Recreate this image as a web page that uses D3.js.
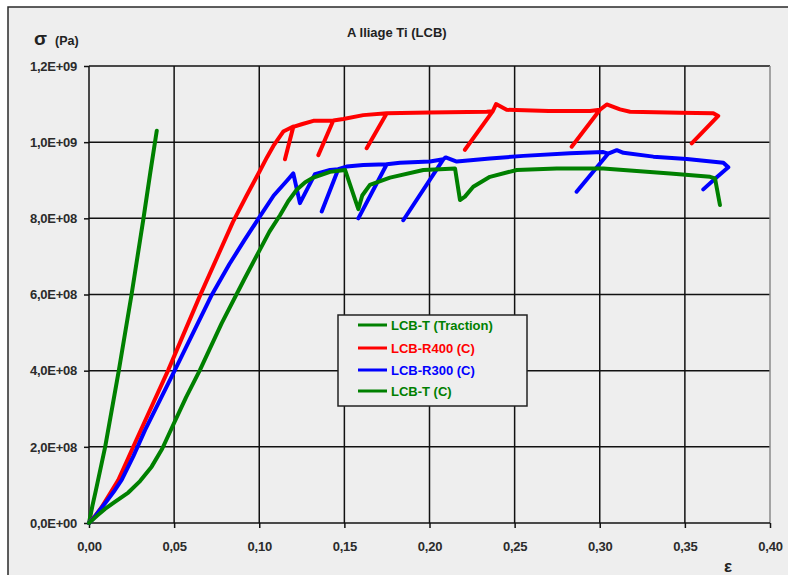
<!DOCTYPE html>
<html>
<head>
<meta charset="utf-8">
<script src="https://cdn.jsdelivr.net/npm/d3@7"></script>
<style>
  html, body { margin: 0; padding: 0; background: #ffffff; }
  svg { display: block; }
  text { font-family: "Liberation Sans", Arial, sans-serif; }
</style>
</head>
<body>
<svg id="chart" width="788" height="575"></svg>
<script>
// Axis ticks
const xTicks = [0, 0.05, 0.10, 0.15, 0.20, 0.25, 0.30, 0.35, 0.40];
const xTickLabels = ["0,00", "0,05", "0,10", "0,15", "0,20", "0,25", "0,30", "0,35", "0,40"];
const yTicks = [0, 2e8, 4e8, 6e8, 8e8, 1.0e9, 1.2e9];
const yTickLabels = ["0,0E+00", "2,0E+08", "4,0E+08", "6,0E+08", "8,0E+08", "1,0E+09", "1,2E+09"];

// LCB-T (Traction)
const tractionStrain = [0, 0.002, 0.004, 0.0095, 0.0175, 0.025, 0.032, 0.036, 0.0398];
const tractionStress = [0, 0.45e8, 0.85e8, 2.0e8, 4.0e8, 6.0e8, 8.0e8, 9.2e8, 1.03e9];

// LCB-R400 (C) with unload/reload cycles
const r400Strain = [0, 0.0035, 0.0075, 0.012, 0.0172, 0.022, 0.027, 0.0466, 0.0652, 0.0845, 0.0926,
  0.1004, 0.1045, 0.1083, 0.1141, 0.120,
  0.1151, 0.120, 0.1249, 0.1318, 0.1435,
  0.1347, 0.1435, 0.1494, 0.1611, 0.1749,
  0.1631, 0.1749, 0.200, 0.2336, 0.2371,
  0.2208, 0.2371, 0.2391, 0.2453, 0.270, 0.2943, 0.3001,
  0.2835, 0.3001, 0.3041, 0.3119, 0.3178, 0.3471, 0.3667, 0.3696, 0.354];
const r400Stress = [0, 0.18e8, 0.42e8, 0.75e8, 1.13e8, 1.6e8, 2.1e8, 4.02e8, 5.97e8, 7.9e8, 8.6e8,
  9.25e8, 9.6e8, 9.9e8, 1.028e9, 1.041e9,
  0.955e9, 1.04e9, 1.047e9, 1.056e9, 1.057e9,
  0.966e9, 1.057e9, 1.061e9, 1.071e9, 1.076e9,
  0.984e9, 1.076e9, 1.078e9, 1.080e9, 1.081e9,
  0.980e9, 1.081e9, 1.100e9, 1.085e9, 1.082e9, 1.082e9, 1.085e9,
  0.988e9, 1.085e9, 1.099e9, 1.086e9, 1.080e9, 1.077e9, 1.076e9, 1.069e9, 0.997e9];

// LCB-R300 (C) with unload/reload cycles
const r300Strain = [0, 0.003, 0.0055, 0.01, 0.0145, 0.0192, 0.026, 0.0329, 0.0505, 0.0721, 0.0825,
  0.0912, 0.1004, 0.1085, 0.1165, 0.120,
  0.1239, 0.1327, 0.1416, 0.1464,
  0.1367, 0.1464, 0.1513, 0.1611, 0.1749,
  0.1582, 0.1749, 0.1827, 0.2003, 0.2081,
  0.1846, 0.2081, 0.2095, 0.216, 0.2355, 0.2551, 0.2825, 0.3021, 0.305,
  0.2864, 0.305, 0.310, 0.3139, 0.3315, 0.3511, 0.3726, 0.3755, 0.3687, 0.3608];
const r300Stress = [0, 0.14e8, 0.29e8, 0.55e8, 0.82e8, 1.13e8, 1.75e8, 2.44e8, 4.02e8, 5.99e8, 6.8e8,
  7.42e8, 8.05e8, 8.6e8, 9.0e8, 9.18e8,
  8.40e8, 9.16e8, 9.27e8, 9.29e8,
  8.18e8, 9.29e8, 9.36e8, 9.40e8, 9.42e8,
  8.00e8, 9.42e8, 9.46e8, 9.49e8, 9.55e8,
  7.95e8, 9.55e8, 9.60e8, 9.49e8, 9.57e8, 9.64e8, 9.71e8, 9.74e8, 9.70e8,
  8.70e8, 9.70e8, 9.79e8, 9.72e8, 9.62e8, 9.56e8, 9.46e8, 9.34e8, 9.08e8, 8.76e8];

// LCB-T (C) with relaxation drops
const tcStrain = [0, 0.005, 0.0094, 0.015, 0.0231, 0.030, 0.0368, 0.043, 0.0495, 0.057, 0.0652,
  0.0779, 0.0912, 0.1004, 0.106, 0.1122, 0.117, 0.122, 0.127, 0.1318, 0.1416, 0.1504,
  0.1582, 0.1605, 0.165, 0.1768, 0.1964, 0.2062, 0.215,
  0.2179, 0.2208, 0.2257, 0.2355, 0.2512, 0.2747, 0.3021, 0.3217, 0.3413, 0.3648, 0.3677, 0.3706];
const tcStress = [0, 0.2e8, 0.37e8, 0.55e8, 0.8e8, 1.1e8, 1.48e8, 1.95e8, 2.58e8, 3.3e8, 4.02e8,
  5.24e8, 6.4e8, 7.18e8, 7.65e8, 8.08e8, 8.45e8, 8.75e8, 8.95e8, 9.07e8, 9.22e8, 9.27e8,
  8.24e8, 8.6e8, 8.88e8, 9.07e8, 9.27e8, 9.29e8, 9.31e8,
  8.48e8, 8.57e8, 8.83e8, 9.09e8, 9.27e8, 9.31e8, 9.31e8, 9.24e8, 9.18e8, 9.09e8, 9.05e8, 8.35e8];

const seriesNames = ["LCB-T (Traction)", "LCB-R400 (C)", "LCB-R300 (C)", "LCB-T (C)"];
const seriesColors = ["#008000", "#ff0000", "#0000ff", "#008000"];
const seriesStrain = [tractionStrain, r400Strain, r300Strain, tcStrain];
const seriesStress = [tractionStress, r400Stress, r300Stress, tcStress];

const svg = d3.select("#chart");
const bg = "#eeeeee";

// Outer frame
svg.append("rect").attr("x", 8).attr("y", 7).attr("width", 800).attr("height", 600)
  .attr("fill", bg).attr("stroke", "#2a2a2a").attr("stroke-width", 1.5);

const x = d3.scaleLinear().domain([0, 0.4]).range([89, 770]);
const y = d3.scaleLinear().domain([0, 1.2e9]).range([523, 66]);

// Gridlines
const grid = svg.append("g");
grid.selectAll("line.v").data(xTicks.slice(1, -1)).join("line")
  .attr("x1", d => x(d)).attr("x2", d => x(d)).attr("y1", y(1.2e9)).attr("y2", y(0))
  .attr("stroke", "#111").attr("stroke-width", 1.5);
grid.selectAll("line.h").data(yTicks.slice(1)).join("line")
  .attr("x1", x(0)).attr("x2", x(0.4)).attr("y1", d => y(d)).attr("y2", d => y(d))
  .attr("stroke", "#111").attr("stroke-width", 1.5);
// Right border of the plot area
grid.append("line").attr("x1", x(0.4)).attr("x2", x(0.4)).attr("y1", y(1.2e9)).attr("y2", y(0))
  .attr("stroke", "#8a8a8a").attr("stroke-width", 1.5);

// Axes
const xAxis = d3.axisBottom(x).tickValues(xTicks).tickFormat((d, i) => xTickLabels[i])
  .tickSize(5).tickPadding(14);
const yAxis = d3.axisLeft(y).tickValues(yTicks).tickFormat((d, i) => yTickLabels[i])
  .tickSize(5).tickPadding(7);

const gx = svg.append("g").attr("transform", `translate(0,${y(0)})`).call(xAxis);
const gy = svg.append("g").attr("transform", `translate(${x(0)},0)`).call(yAxis);
[gx, gy].forEach(g => {
  g.select(".domain").attr("stroke", "#111").attr("stroke-width", 1.5);
  g.selectAll(".tick line").attr("stroke", "#111").attr("stroke-width", 1.5);
  g.selectAll(".tick text").attr("fill", "#2b2b2b")
    .attr("font-family", "Liberation Sans, Arial, sans-serif")
    .attr("font-size", 13).attr("font-weight", "bold").attr("letter-spacing", "-0.25");
});
gx.select(".domain").attr("d", `M${x(0)},0H${x(0.4)}`);
gy.select(".domain").attr("d", `M0,${y(1.2e9)}V${y(0)}`);

// Curves
const line = d3.line().x(d => x(d[0])).y(d => y(d[1]));
const curves = svg.append("g");
seriesStrain.forEach((strain, i) => {
  const pts = strain.map((s, j) => [s, seriesStress[i][j]]);
  curves.append("path").datum(pts).attr("d", line)
    .attr("fill", "none").attr("stroke", seriesColors[i]).attr("stroke-width", 4)
    .attr("stroke-linejoin", "round").attr("stroke-linecap", "round");
});

// Title and axis names
svg.append("text").attr("x", 347).attr("y", 37).attr("font-size", 13).attr("font-weight", "bold")
  .attr("fill", "#222").text("A lliage Ti (LCB)");
svg.append("text").attr("x", 34).attr("y", 45).attr("font-size", 19).attr("font-weight", "bold")
  .attr("fill", "#222").text("σ");
svg.append("text").attr("x", 55).attr("y", 45).attr("font-size", 12.5).attr("font-weight", "bold")
  .attr("fill", "#222").text("(Pa)");
svg.append("text").attr("x", 724).attr("y", 572).attr("font-size", 17).attr("font-weight", "bold")
  .attr("fill", "#222").text("ε");

// Legend
const legend = svg.append("g");
legend.append("rect").attr("x", 338).attr("y", 315).attr("width", 189).attr("height", 91)
  .attr("fill", bg).attr("stroke", "#222").attr("stroke-width", 1.5);
const rowY = [325, 348, 370, 391];
seriesNames.forEach((name, i) => {
  legend.append("line").attr("x1", 358).attr("x2", 387).attr("y1", rowY[i]).attr("y2", rowY[i])
    .attr("stroke", seriesColors[i]).attr("stroke-width", 3);
  legend.append("text").attr("x", 391).attr("y", rowY[i] + 5).attr("font-size", 13)
    .attr("font-weight", "bold").attr("fill", seriesColors[i]).text(name);
});
</script>
</body>
</html>
